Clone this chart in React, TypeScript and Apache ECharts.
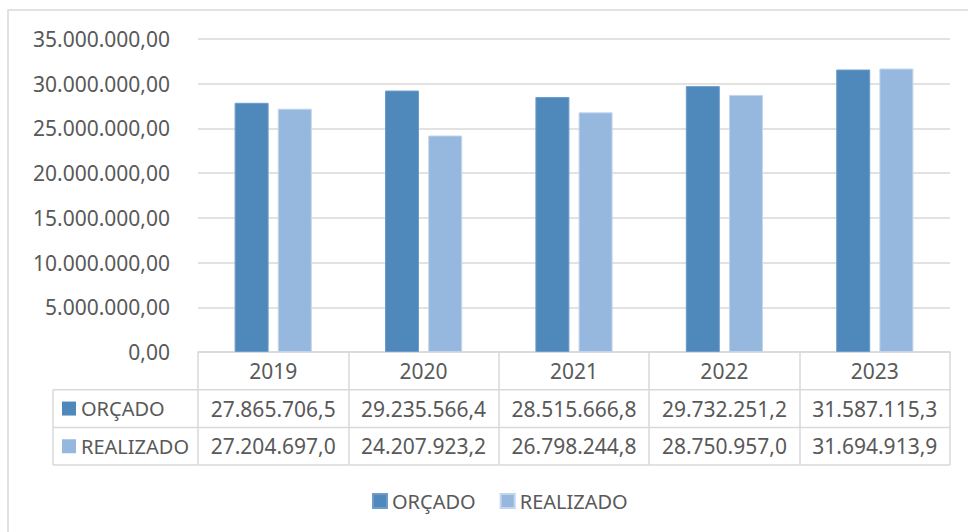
import React, { useEffect, useRef } from "react";
import * as echarts from "echarts";

const years = ["2019", "2020", "2021", "2022", "2023"];
const orcado = [27865706.5, 29235566.4, 28515666.8, 29732251.2, 31587115.3];
const realizado = [27204697.0, 24207923.2, 26798244.8, 28750957.0, 31694913.9];
const seriesNames = ["ORÇADO", "REALIZADO"];
const colors = ["#4f88bb", "#97b8de"];

const FONT = "Noto Sans";
const FS = 21;
const FS_NAME = 20;
const TXT = "#595959";
const LINE = "#d9d9d9";

function fmt(v: number, dec: number): string {
  const neg = v < 0;
  const fixed = Math.abs(v).toFixed(dec);
  const [ip, dp] = fixed.split(".");
  const withDots = ip.replace(/\B(?=(\d{3})+(?!\d))/g, ".");
  return (neg ? "-" : "") + withDots + (dec > 0 ? "," + dp : "");
}

export default function App() {
  const ref = useRef<HTMLDivElement>(null);
  useEffect(() => {
    if (!ref.current) return;
    const chart = echarts.init(ref.current, null, { renderer: "svg" });
    const gridLeft = 198;
    const gridRight = 950;
    const axisY = 352;
    const rowH = 37.7;
    const rows = [orcado, realizado];
    const graphics: any[] = [
      {
        type: "rect",
        shape: { x: 8, y: 10, width: 1200, height: 800 },
        style: { fill: "none", stroke: LINE, lineWidth: 1.5 },
        silent: true,
      },
    ];
    for (let i = 1; i <= 3; i++) {
      const y = axisY + rowH * i;
      graphics.push({
        type: "line",
        shape: { x1: 53, y1: y, x2: gridRight, y2: y },
        style: { stroke: LINE, lineWidth: 1.5 },
        silent: true,
      });
    }
    graphics.push({
      type: "line",
      shape: { x1: 53, y1: axisY + rowH, x2: 53, y2: axisY + rowH * 3 },
      style: { stroke: LINE, lineWidth: 1.5 },
      silent: true,
    });
    rows.forEach((_, i) => {
      const cy = axisY + rowH * (i + 1.5);
      graphics.push({
        type: "rect",
        shape: { x: 62, y: cy - 7, width: 14, height: 14 },
        style: { fill: colors[i] },
        silent: true,
      });
      graphics.push({
        type: "text",
        x: 81,
        y: cy,
        style: {
          text: seriesNames[i],
          fill: TXT,
          font: `${FS_NAME}px "${FONT}"`,
          verticalAlign: "middle",
        },
        silent: true,
      });
    });

    const valueAxis = (idx: number) => ({
      type: "category",
      data: years,
      gridIndex: 0,
      position: "bottom",
      offset: rowH * (idx + 1.5),
      axisLine: { show: false },
      axisTick: { show: false },
      axisLabel: {
        interval: 0,
        margin: 0,
        verticalAlign: "middle",
        color: TXT,
        fontSize: FS,
        fontFamily: FONT,
        formatter: (_v: string, i: number) => fmt(rows[idx][i], 1),
      },
    });

    chart.setOption({
      animation: false,
      backgroundColor: "#ffffff",
      textStyle: { fontFamily: FONT },
      grid: {
        left: gridLeft,
        right: 968 - gridRight,
        top: 39,
        bottom: 532 - axisY,
        containLabel: false,
      },
      legend: {
        data: seriesNames,
        left: 367,
        top: 486,
        icon: "rect",
        itemWidth: 14,
        itemHeight: 14,
        itemGap: 24,
        textStyle: { color: TXT, fontSize: FS_NAME, fontFamily: FONT },
      },
      xAxis: [
        {
          type: "category",
          data: years,
          position: "bottom",
          axisLine: { show: true, lineStyle: { color: LINE, width: 1.5 } },
          axisTick: {
            show: true,
            interval: 0,
            length: rowH * 3,
            lineStyle: { color: LINE, width: 1.5 },
          },
          axisLabel: {
            interval: 0,
            margin: rowH / 2,
            verticalAlign: "middle",
            color: TXT,
            fontSize: FS,
            fontFamily: FONT,
          },
        },
        valueAxis(0),
        valueAxis(1),
      ],
      yAxis: {
        type: "value",
        min: 0,
        max: 35000000,
        interval: 5000000,
        axisLine: { show: false },
        axisTick: { show: false },
        splitLine: { lineStyle: { color: LINE, width: 1.5 } },
        axisLabel: {
          margin: 28,
          color: TXT,
          fontSize: FS,
          fontFamily: FONT,
          formatter: (v: number) => fmt(v, 2),
        },
      },
      graphic: graphics,
      series: [
        {
          name: seriesNames[0],
          type: "bar",
          data: orcado,
          barWidth: 34,
          barGap: "27%",
          itemStyle: { color: colors[0], borderColor: "#6f9ccb", borderWidth: 1 },
        },
        {
          name: seriesNames[1],
          type: "bar",
          data: realizado,
          barWidth: 34,
          barGap: "27%",
          itemStyle: { color: colors[1], borderColor: "#c2d5ec", borderWidth: 1 },
        },
      ],
    });
    return () => chart.dispose();
  }, []);
  return <div ref={ref} style={{ width: 968, height: 532, position: "absolute", left: 0, top: 0 }} />;
}
